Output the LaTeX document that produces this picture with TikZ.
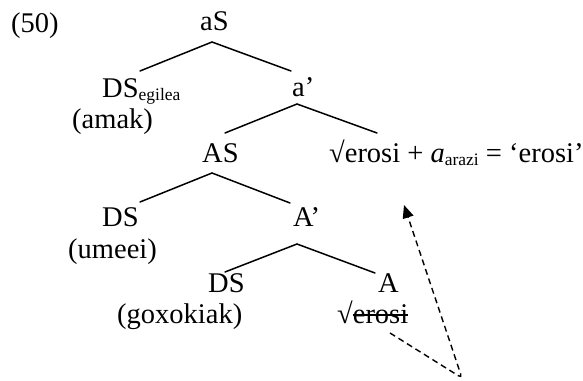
\documentclass[tikz,border=0pt]{standalone}
\usepackage{fontspec}
\setmainfont{Liberation Serif}
\usetikzlibrary{arrows.meta}
\newcommand\mysub[1]{\raisebox{-3pt}{\fontsize{17.5}{19}\selectfont #1}}
\newcommand\mystrike[1]{\setbox0\hbox{#1}\rlap{\rule[7.5pt]{\wd0}{1.4pt}}#1}
\begin{document}
\begin{tikzpicture}[x=1pt,y=-1pt,
  lbl/.style={inner sep=0pt, anchor=base west, font=\fontsize{28.5}{32}\selectfont},
  branch/.style={line width=1.5pt, line cap=round},
  move/.style={line width=1.4pt, dash pattern=on 6pt off 4pt, rounded corners=4pt,
    -{Triangle[length=13pt,width=11pt]}}]
\useasboundingbox (0,0) rectangle (583,380);
% labels
\node[lbl] (ex) at (11,32) {(50)};
\node[lbl] (aS) at (200,30) {aS};
\node[lbl] (DSa) at (102,97) {DS\mysub{egilea}};
\node[lbl] (amak) at (72,128) {(amak)};
\node[lbl] (ap) at (292,96) {a’};
\node[lbl] (AS) at (202,162) {AS};
\node[lbl] (root) at (329,162) {√erosi + \textit{a}\mysub{arazi} = ‘erosi’};
\node[lbl] (DSb) at (102,226) {DS};
\node[lbl] (umeei) at (68,258) {(umeei)};
\node[lbl] (Ap) at (293,226) {A’};
\node[lbl] (DSc) at (208,292) {DS};
\node[lbl] (gox) at (117,323) {(goxokiak)};
\node[lbl] (A) at (378,292) {A};
\node[lbl] (trace) at (337,323) {√\mystrike{erosi}};
% branch points
\coordinate (aS-b) at (212,42);
\coordinate (DSa-t) at (140,71);
\coordinate (ap-t) at (291,71);
\coordinate (ap-b) at (297,104);
\coordinate (AS-t) at (225,133);
\coordinate (root-t) at (377,133);
\coordinate (AS-b) at (212,173);
\coordinate (DSb-t) at (140,202);
\coordinate (Ap-t) at (290,203);
\coordinate (Ap-b) at (297,244);
\coordinate (DSc-t) at (225,272);
\coordinate (A-t) at (375,273);
% tree
\draw[branch] (DSa-t) -- (aS-b) -- (ap-t);
\draw[branch] (AS-t) -- (ap-b) -- (root-t);
\draw[branch] (DSb-t) -- (AS-b) -- (Ap-t);
\draw[branch] (DSc-t) -- (Ap-b) -- (A-t);
% movement arrow
\coordinate (mv-s) at (390,333);
\coordinate (mv-c) at (462,378);
\coordinate (mv-e) at (404,205);
\draw[move] (mv-s) -- (mv-c) -- (mv-e);
\end{tikzpicture}
\end{document}
